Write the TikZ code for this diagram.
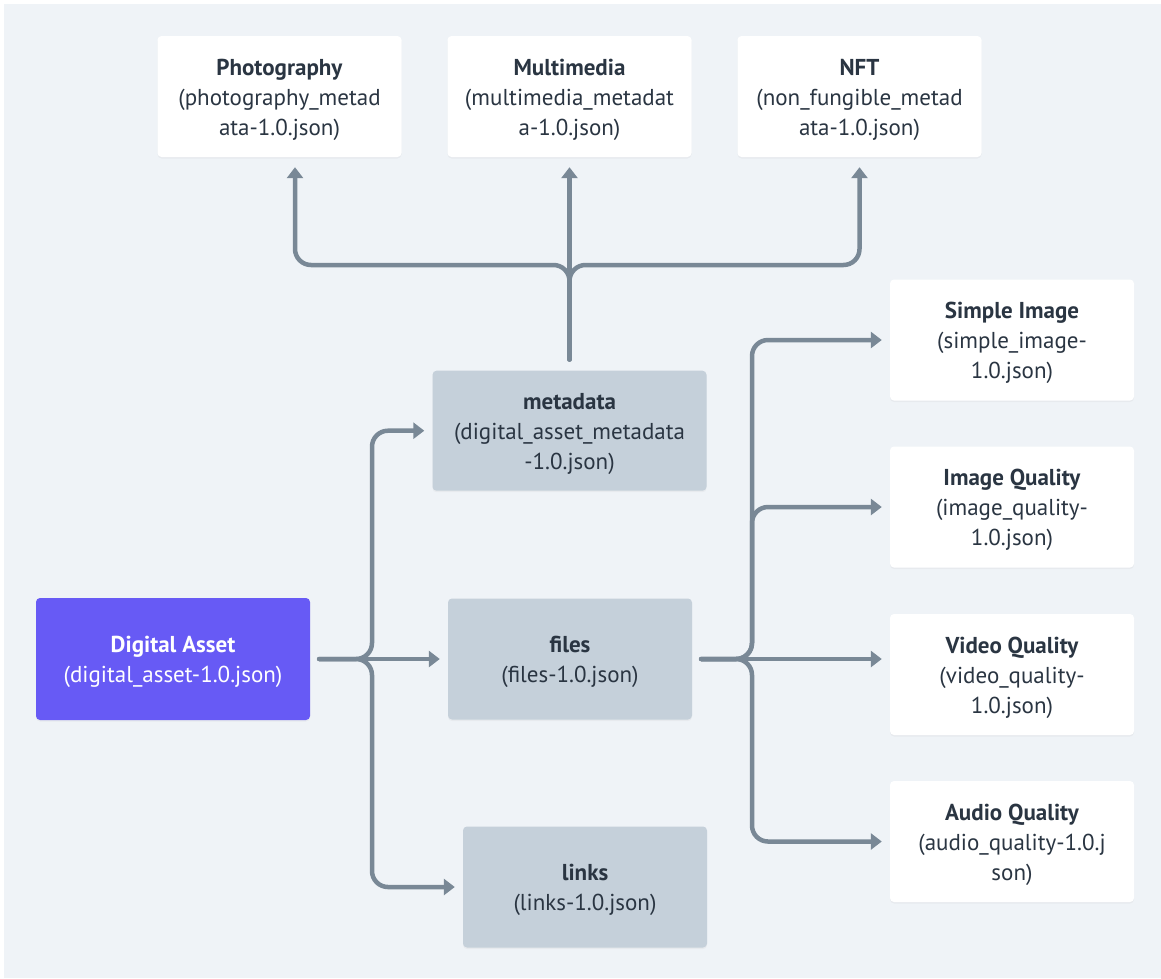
\documentclass[tikz,border=0pt]{standalone}
\usepackage{fontspec}
\setmainfont{PT Sans}
\usetikzlibrary{arrows.meta,shadows}
\definecolor{bg}{HTML}{EFF3F7}
\definecolor{slab}{HTML}{C5D0DA}
\definecolor{purp}{HTML}{675AF5}
\definecolor{wire}{HTML}{798896}
\definecolor{ink}{HTML}{2A3542}
\newcommand\topfix{\rule{0pt}{22.5pt}}
\begin{document}
\begin{tikzpicture}[x=1pt,y=-1pt,
  card/.style={rounded corners=4pt, inner sep=0pt, align=center,
    font=\fontsize{23}{30}\selectfont, text=ink,
    drop shadow={shadow xshift=0pt,shadow yshift=-1.5pt,opacity=0.07}},
  whitecard/.style={card, fill=white, minimum width=244pt, minimum height=121pt},
  slabcard/.style={card, fill=slab, minimum width=244pt, minimum height=121pt},
  conn/.style={draw=wire, line width=4.5pt, line cap=round, rounded corners=16pt,
    shorten <=9pt, shorten >=8pt, -{Triangle[width=16pt,length=11pt]}},
]
\useasboundingbox (0,0) rectangle (1161,978);
\fill[bg] (4,4) rectangle (1161,978);

% top row
\node[whitecard] (photo) at (279.5,96.5) {\topfix\textbf{Photography}\\(photography\_metad\\ata-1.0.json)};
\node[whitecard] (multi) at (569.5,96.5) {\topfix\textbf{Multimedia}\\(multimedia\_metadat\\a-1.0.json)};
\node[whitecard] (nft) at (859.5,96.5) {\topfix\textbf{NFT}\\(non\_fungible\_metad\\ata-1.0.json)};

% middle column
\node[slabcard, minimum width=274pt, minimum height=120pt] (meta) at (569.5,430.7) {\topfix\textbf{metadata}\\(digital\_asset\_metadata\\-1.0.json)};
\node[slabcard] (files) at (570,659) {\topfix\textbf{files}\\(files-1.0.json)};
\node[slabcard] (links) at (585,887) {\topfix\textbf{links}\\(links-1.0.json)};

% root
\node[card, fill=purp, text=white, minimum width=274pt, minimum height=122pt] (da) at (173,659) {\topfix\textbf{Digital Asset}\\(digital\_asset-1.0.json)};

% right column
\node[whitecard] (simple) at (1012,340) {\topfix\textbf{Simple Image}\\(simple\_image-\\1.0.json)};
\node[whitecard] (image) at (1012,507) {\topfix\textbf{Image Quality}\\(image\_quality-\\1.0.json)};
\node[whitecard] (video) at (1012,674.5) {\topfix\textbf{Video Quality}\\(video\_quality-\\1.0.json)};
\node[whitecard] (audio) at (1012,841.5) {\topfix\textbf{Audio Quality}\\(audio\_quality-1.0.j\\son)};

% junction guides
\coordinate (bus) at (0,265);
\coordinate (lx) at (372,0);
\coordinate (rx) at (752,0);

% metadata -> top
\draw[conn, shorten <=11pt, shorten >=10pt] (meta.north) -- (meta.north |- bus) -| ([xshift=15.5pt]photo.south);
\draw[conn, shorten <=11pt, shorten >=10pt] (meta.north) -- (multi.south);
\draw[conn, shorten <=11pt, shorten >=10pt] (meta.north) -- (meta.north |- bus) -| (nft.south);

% digital asset -> middle
\draw[conn] (da.east) -- (files.west);
\draw[conn] (da.east) -| (lx |- meta.west) -- (meta.west);
\draw[conn] (da.east) -| (lx |- links.west) -- (links.west);

% files -> right
\draw[conn] (files.east) -- (files.east -| video.west);
\draw[conn] (files.east) -| (rx |- simple.west) -- (simple.west);
\draw[conn] (files.east) -| (rx |- image.west) -- (image.west);
\draw[conn] (files.east) -| (rx |- audio.west) -- (audio.west);
\end{tikzpicture}
\end{document}
